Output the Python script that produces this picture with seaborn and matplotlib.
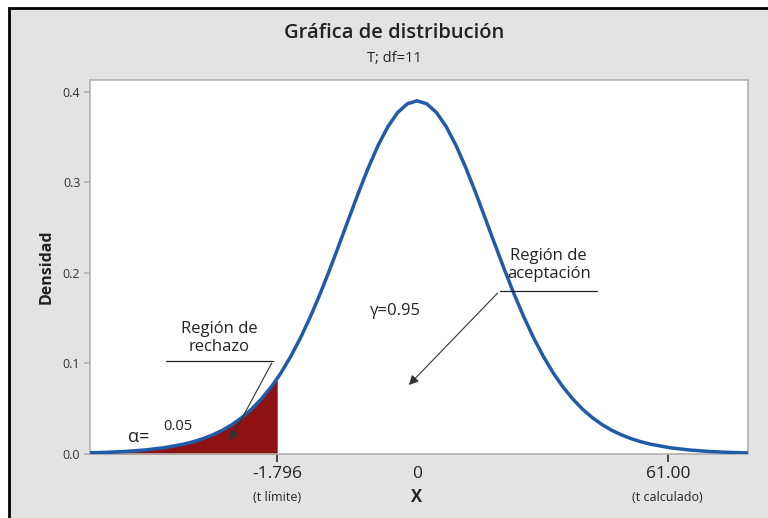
import matplotlib
matplotlib.use("Agg")
import numpy as np
import matplotlib.pyplot as plt
import seaborn as sns
from matplotlib.patches import Rectangle

# densidad (T, df=11)
x_vals = [-4.5, -4.25, -4.0, -3.75, -3.5, -3.25, -3.0, -2.875, -2.75, -2.625, -2.5, -2.375,
          -2.25, -2.125, -2.0, -1.875, -1.796, -1.75, -1.625, -1.5, -1.375, -1.25, -1.125,
          -1.0, -0.875, -0.75, -0.625, -0.5, -0.375, -0.25, -0.125, 0.0, 0.125, 0.25, 0.375,
          0.5, 0.625, 0.75, 0.875, 1.0, 1.125, 1.25, 1.375, 1.5, 1.625, 1.75, 1.875, 2.0,
          2.125, 2.25, 2.375, 2.5, 2.625, 2.75, 2.875, 3.0, 3.25, 3.5, 3.75, 4.0, 4.25, 4.5]
dens = [0.0007, 0.0012, 0.0018, 0.0028, 0.0044, 0.0069, 0.0108, 0.0135, 0.0169, 0.0211, 0.0262, 0.0325,
        0.0402, 0.0495, 0.0607, 0.0739, 0.0834, 0.0893, 0.1073, 0.1277, 0.1506, 0.1758, 0.2029,
        0.2314, 0.2604, 0.2891, 0.3163, 0.3408, 0.3614, 0.3770, 0.3867, 0.3900, 0.3867, 0.3770, 0.3614,
        0.3408, 0.3163, 0.2891, 0.2604, 0.2314, 0.2029, 0.1758, 0.1506, 0.1277, 0.1073, 0.0893, 0.0739, 0.0607,
        0.0495, 0.0402, 0.0325, 0.0262, 0.0211, 0.0169, 0.0135, 0.0108, 0.0069, 0.0044, 0.0028, 0.0018, 0.0012, 0.0007]

t_limite = -1.796
tick_pos = [-1.796, 0.0, 3.22]
tick_labels = ["-1.796", "0", "61.00"]
y_ticks = [0.0, 0.1, 0.2, 0.3, 0.4]

sns.set_theme(style="white")
plt.rcParams["font.family"] = ["Open Sans", "DejaVu Sans"]

fig = plt.figure(figsize=(7.68, 5.18), dpi=100, facecolor="white")
# marco gris con borde negro (captura)
fig.patches.append(Rectangle((9 / 768, -0.01), 1.0, (518 - 8) / 518 + 0.01,
                             transform=fig.transFigure, facecolor="#e3e3e3",
                             edgecolor="black", lw=2, zorder=-10))

ax = fig.add_axes([90 / 768, 64 / 518, 658 / 768, 374 / 518])
ax.set_facecolor("white")

x = np.array(x_vals)
y = np.array(dens)
mask = x <= t_limite
ax.fill_between(x[mask], 0, y[mask], color="#8e1212", zorder=2, lw=0)
sns.lineplot(x=x, y=y, ax=ax, color="#1f5ba8", lw=2.5, zorder=3)

ax.set_xlim(-4.2, 4.25)
ax.set_ylim(0, 0.413)
ax.set_yticks(y_ticks)
ax.set_yticklabels([f"{v:.1f}" for v in y_ticks], fontsize=9, color="#333333")
ax.set_xticks(tick_pos)
ax.set_xticklabels(tick_labels, fontsize=12.5, color="#222222")
ax.tick_params(axis="y", length=4, color="#b0b0b0", pad=3, left=True)
ax.tick_params(axis="x", length=6, color="#333333", pad=3, bottom=True, direction="out")
ax.xaxis.get_major_ticks()[1].tick1line.set_visible(False)
for s in ax.spines.values():
    s.set_color("#b0b0b0")
    s.set_linewidth(1.2)

# textos bajo los ticks
trans = ax.get_xaxis_transform()
ax.text(-1.796, -0.115, "(t límite)", transform=trans, ha="center", va="center", fontsize=9, color="#222222")
ax.text(3.22, -0.115, "(t calculado)", transform=trans, ha="center", va="center", fontsize=9, color="#222222")
ax.text(0.0, -0.115, "X", transform=trans, ha="center", va="center", fontsize=12, fontweight="bold", color="#222222")

ax.set_ylabel("Densidad", fontsize=11.5, fontweight="bold", color="#222222", labelpad=6)

fig.text(394 / 768, (518 - 33) / 518, "Gráfica de distribución", ha="center", va="center",
         fontsize=14.5, fontweight="semibold", color="#222222")
fig.text(394 / 768, (518 - 58) / 518, "T; df=11", ha="center", va="center", fontsize=10.5, color="#222222")

# anotaciones
ax.text(-2.54, 0.128, "Región de\nrechazo", ha="center", va="center", fontsize=12,
        color="#222222", linespacing=1.2, zorder=5)
ax.plot([-3.22, -1.85], [0.103, 0.103], color="#222222", lw=0.9, zorder=5)
ax.annotate("", xy=(-2.42, 0.012), xytext=(-1.85, 0.103),
            arrowprops=dict(arrowstyle="-|>", color="#333333", lw=0.8, mutation_scale=14), zorder=5)
ax.text(-3.58, 0.019, "α=", ha="center", va="center", fontsize=13, color="#222222", zorder=5)
ax.text(-3.07, 0.030, "0.05", ha="center", va="center", fontsize=10.5, color="#222222", zorder=5)

ax.text(-0.28, 0.158, "γ=0.95", ha="center", va="center", fontsize=12, color="#222222", zorder=5)
ax.text(1.69, 0.209, "Región de\naceptación", ha="center", va="center", fontsize=12,
        color="#222222", linespacing=1.2, zorder=5)
ax.plot([1.06, 2.31], [0.180, 0.180], color="#222222", lw=0.9, zorder=5)
ax.annotate("", xy=(-0.13, 0.074), xytext=(1.06, 0.180),
            arrowprops=dict(arrowstyle="-|>", color="#333333", lw=0.8, mutation_scale=14), zorder=5)

fig.savefig("out.png", dpi=100, facecolor=fig.get_facecolor())
plt.close(fig)
